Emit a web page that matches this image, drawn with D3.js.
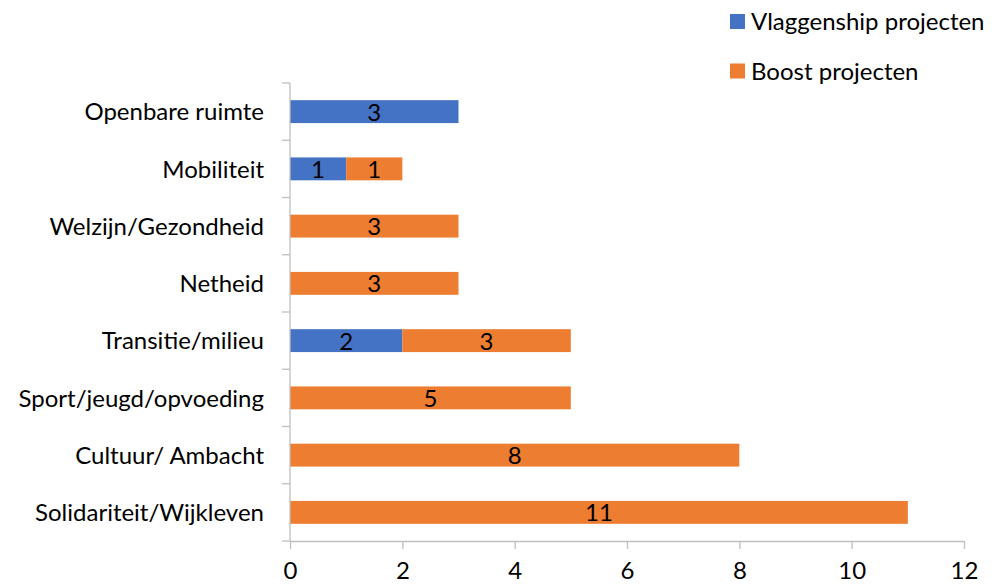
<!DOCTYPE html>
<html>
<head>
<meta charset="utf-8">
<script src="https://cdn.jsdelivr.net/npm/d3@7"></script>
<style>
  body { margin: 0; background: #fff; }
  text { font-family: Lato, "Open Sans", sans-serif; fill: #000; }
</style>
</head>
<body>
<div id="chart"></div>
<script>
const categories = [
  "Openbare ruimte",
  "Mobiliteit",
  "Welzijn/Gezondheid",
  "Netheid",
  "Transitie/milieu",
  "Sport/jeugd/opvoeding",
  "Cultuur/ Ambacht",
  "Solidariteit/Wijkleven"
];
const vlaggenship = [3, 1, 0, 0, 2, 0, 0, 0];
const boost = [0, 1, 3, 3, 3, 5, 8, 11];
const seriesNames = ["Vlaggenship projecten", "Boost projecten"];
const xTicks = [0, 2, 4, 6, 8, 10, 12];

const W = 995, H = 586;
const margin = { top: 83, right: 31, bottom: 45, left: 290 };
const width = W - margin.left - margin.right,
  height = H - margin.top - margin.bottom;
const fontSize = "24px";

const svg = d3
  .select("#chart")
  .append("svg")
  .attr("width", W)
  .attr("height", H);

const g = svg
  .append("g")
  .attr("transform", "translate(" + margin.left + "," + margin.top + ")");

const x = d3.scaleLinear().domain([0, 12]).range([0, width]);
const y = d3.scaleBand().domain(categories).range([0, height]).paddingInner(0.6).paddingOuter(0.3);
const color = d3.scaleOrdinal().domain(seriesNames).range(["#4472C4", "#ED7D31"]);

const rows = categories.map((c, i) => ({ cat: c, v: vlaggenship[i], b: boost[i] }));
const stack = d3.stack().keys(["v", "b"]);
const stacked = stack(rows);

// bars
const groups = g
  .selectAll(".series")
  .data(stacked)
  .enter()
  .append("g")
  .attr("class", "series")
  .attr("fill", (d, i) => color(seriesNames[i]));

groups
  .selectAll("rect")
  .data((d) => d.filter((s) => s[1] - s[0] > 0))
  .enter()
  .append("rect")
  .attr("x", (d) => x(d[0]))
  .attr("y", (d) => y(d.data.cat))
  .attr("width", (d) => x(d[1]) - x(d[0]))
  .attr("height", y.bandwidth());

groups
  .selectAll("text")
  .data((d) => d.filter((s) => s[1] - s[0] > 0))
  .enter()
  .append("text")
  .attr("x", (d) => (x(d[0]) + x(d[1])) / 2)
  .attr("y", (d) => y(d.data.cat) + y.bandwidth() / 2)
  .attr("dy", ".38em")
  .attr("text-anchor", "middle")
  .style("font-size", fontSize)
  .text((d) => d[1] - d[0]);

// axes
const axisColor = "#bfbfbf";
const step = height / categories.length;

const yAxis = g.append("g");
yAxis.append("line")
  .attr("x1", 0).attr("x2", 0)
  .attr("y1", 0).attr("y2", height)
  .attr("stroke", axisColor).attr("stroke-width", 1.3);
yAxis.selectAll(".tick")
  .data(d3.range(categories.length + 1))
  .enter()
  .append("line")
  .attr("x1", -8).attr("x2", 0)
  .attr("y1", (d) => d * step).attr("y2", (d) => d * step)
  .attr("stroke", axisColor).attr("stroke-width", 1.3);
yAxis.selectAll(".lbl")
  .data(categories)
  .enter()
  .append("text")
  .attr("x", -26)
  .attr("y", (d) => y(d) + y.bandwidth() / 2)
  .attr("dy", ".36em")
  .attr("text-anchor", "end")
  .style("font-size", fontSize)
  .text((d) => d);

const xAxis = g
  .append("g")
  .attr("transform", "translate(0," + height + ")")
  .call(d3.axisBottom(x).tickValues(xTicks).tickSize(8).tickPadding(13).tickSizeOuter(0));
xAxis.select(".domain").attr("stroke", axisColor).attr("stroke-width", 1.3);
xAxis.selectAll(".tick line").attr("stroke", axisColor).attr("stroke-width", 1.3);
xAxis.selectAll(".tick text").style("font-size", fontSize).attr("fill", "#000");

// legend
const legend = svg
  .selectAll(".legend")
  .data(seriesNames)
  .enter()
  .append("g")
  .attr("class", "legend")
  .attr("transform", (d, i) => "translate(730," + (14 + i * 49.5) + ")");
legend.append("rect").attr("width", 15).attr("height", 15).attr("fill", color);
legend.append("text")
  .attr("x", 21)
  .attr("y", 7.5)
  .attr("dy", ".36em")
  .style("font-size", fontSize)
  .text((d) => d);
</script>
</body>
</html>
